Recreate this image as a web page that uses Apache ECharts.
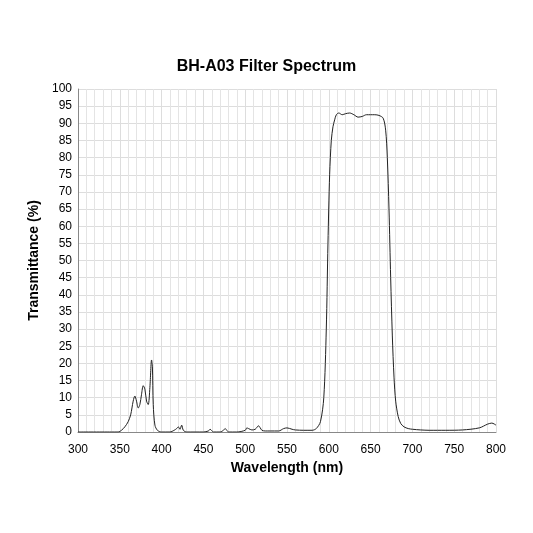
<!DOCTYPE html><html><head><meta charset="utf-8"><script src="https://cdn.jsdelivr.net/npm/echarts@6/dist/echarts.min.js"></script>
<style>html,body{margin:0;background:#fff}#c{width:533px;height:533px}</style></head><body><div id="c"></div><script>
const wavelengths=[300,340,348,352,356,360,363,366,368,370,372,374,376,378,380,382,384,386,388,389,390,392,395,400,410,415,418,420,422,424,426,430,440,450,456,458,460,462,470,474,476,478,480,490,500,502,504,508,512,516,518,520,524,530,540,546,550,556,560,570,580,585,590,594,597,599,601,603,605,607,609,612,616,620,625,630,635,640,645,650,655,660,665,668,670,672,674,676,678,680,683,686,690,695,700,710,720,740,760,780,790,795,800];
const transmittance=[0,0,0,0.5,1.5,3,5,9,10.5,9,7,8,11,13.5,12.5,9,8,13,21,19,8,2,0.5,0,0,0.5,1,1.5,0.8,2,0.5,0,0,0,0.3,0.8,0.4,0,0,0.5,1,0.5,0,0,0.5,1.2,1,0.6,0.8,1.8,1.2,0.5,0.3,0.3,0.3,1,1.2,0.8,0.6,0.5,0.5,1,3,10,30,55,75,85,89,91,92.5,93,92.5,92.8,93,92.5,91.8,92,92.5,92.5,92.5,92.3,91.5,88,80,65,45,28,16,9,4.5,2.5,1.5,1,0.8,0.6,0.5,0.5,0.6,1.2,2.3,2.6,2];
const chart=echarts.init(document.getElementById('c'));
const lbl={color:'#000',fontFamily:'Arial, Liberation Sans',fontSize:12};
chart.setOption({
title:{text:'BH-A03 Filter Spectrum',left:'center',top:54,textStyle:{fontFamily:'Arial, Liberation Sans',fontSize:16,fontWeight:'bold',color:'#000'}},
grid:{left:78,right:37,top:89,bottom:101},
xAxis:{type:'value',min:300,max:800,interval:50,name:'Wavelength (nm)',nameLocation:'middle',nameGap:27,nameTextStyle:{fontFamily:'Arial, Liberation Sans',fontSize:14,fontWeight:'bold',color:'#000'},
axisLine:{lineStyle:{color:'#888'}},axisTick:{show:false},axisLabel:{...lbl,margin:12},
splitLine:{show:true,lineStyle:{color:'#ddd'}},minorTick:{show:false,splitNumber:5},minorSplitLine:{show:true,lineStyle:{color:'#e4e4e4'}}},
yAxis:{type:'value',min:0,max:100,interval:5,name:'Transmittance (%)',nameLocation:'middle',nameGap:36,nameTextStyle:{fontFamily:'Arial, Liberation Sans',fontSize:14,fontWeight:'bold',color:'#000'},
axisLine:{show:true,lineStyle:{color:'#888'}},axisTick:{show:false},axisLabel:{...lbl,margin:6},splitLine:{lineStyle:{color:'#ddd'}}},
series:[{type:'line',data:wavelengths.map((w,i)=>[w,transmittance[i]]),smooth:0.3,showSymbol:false,lineStyle:{color:'#222',width:1}}]
});
</script></body></html>
